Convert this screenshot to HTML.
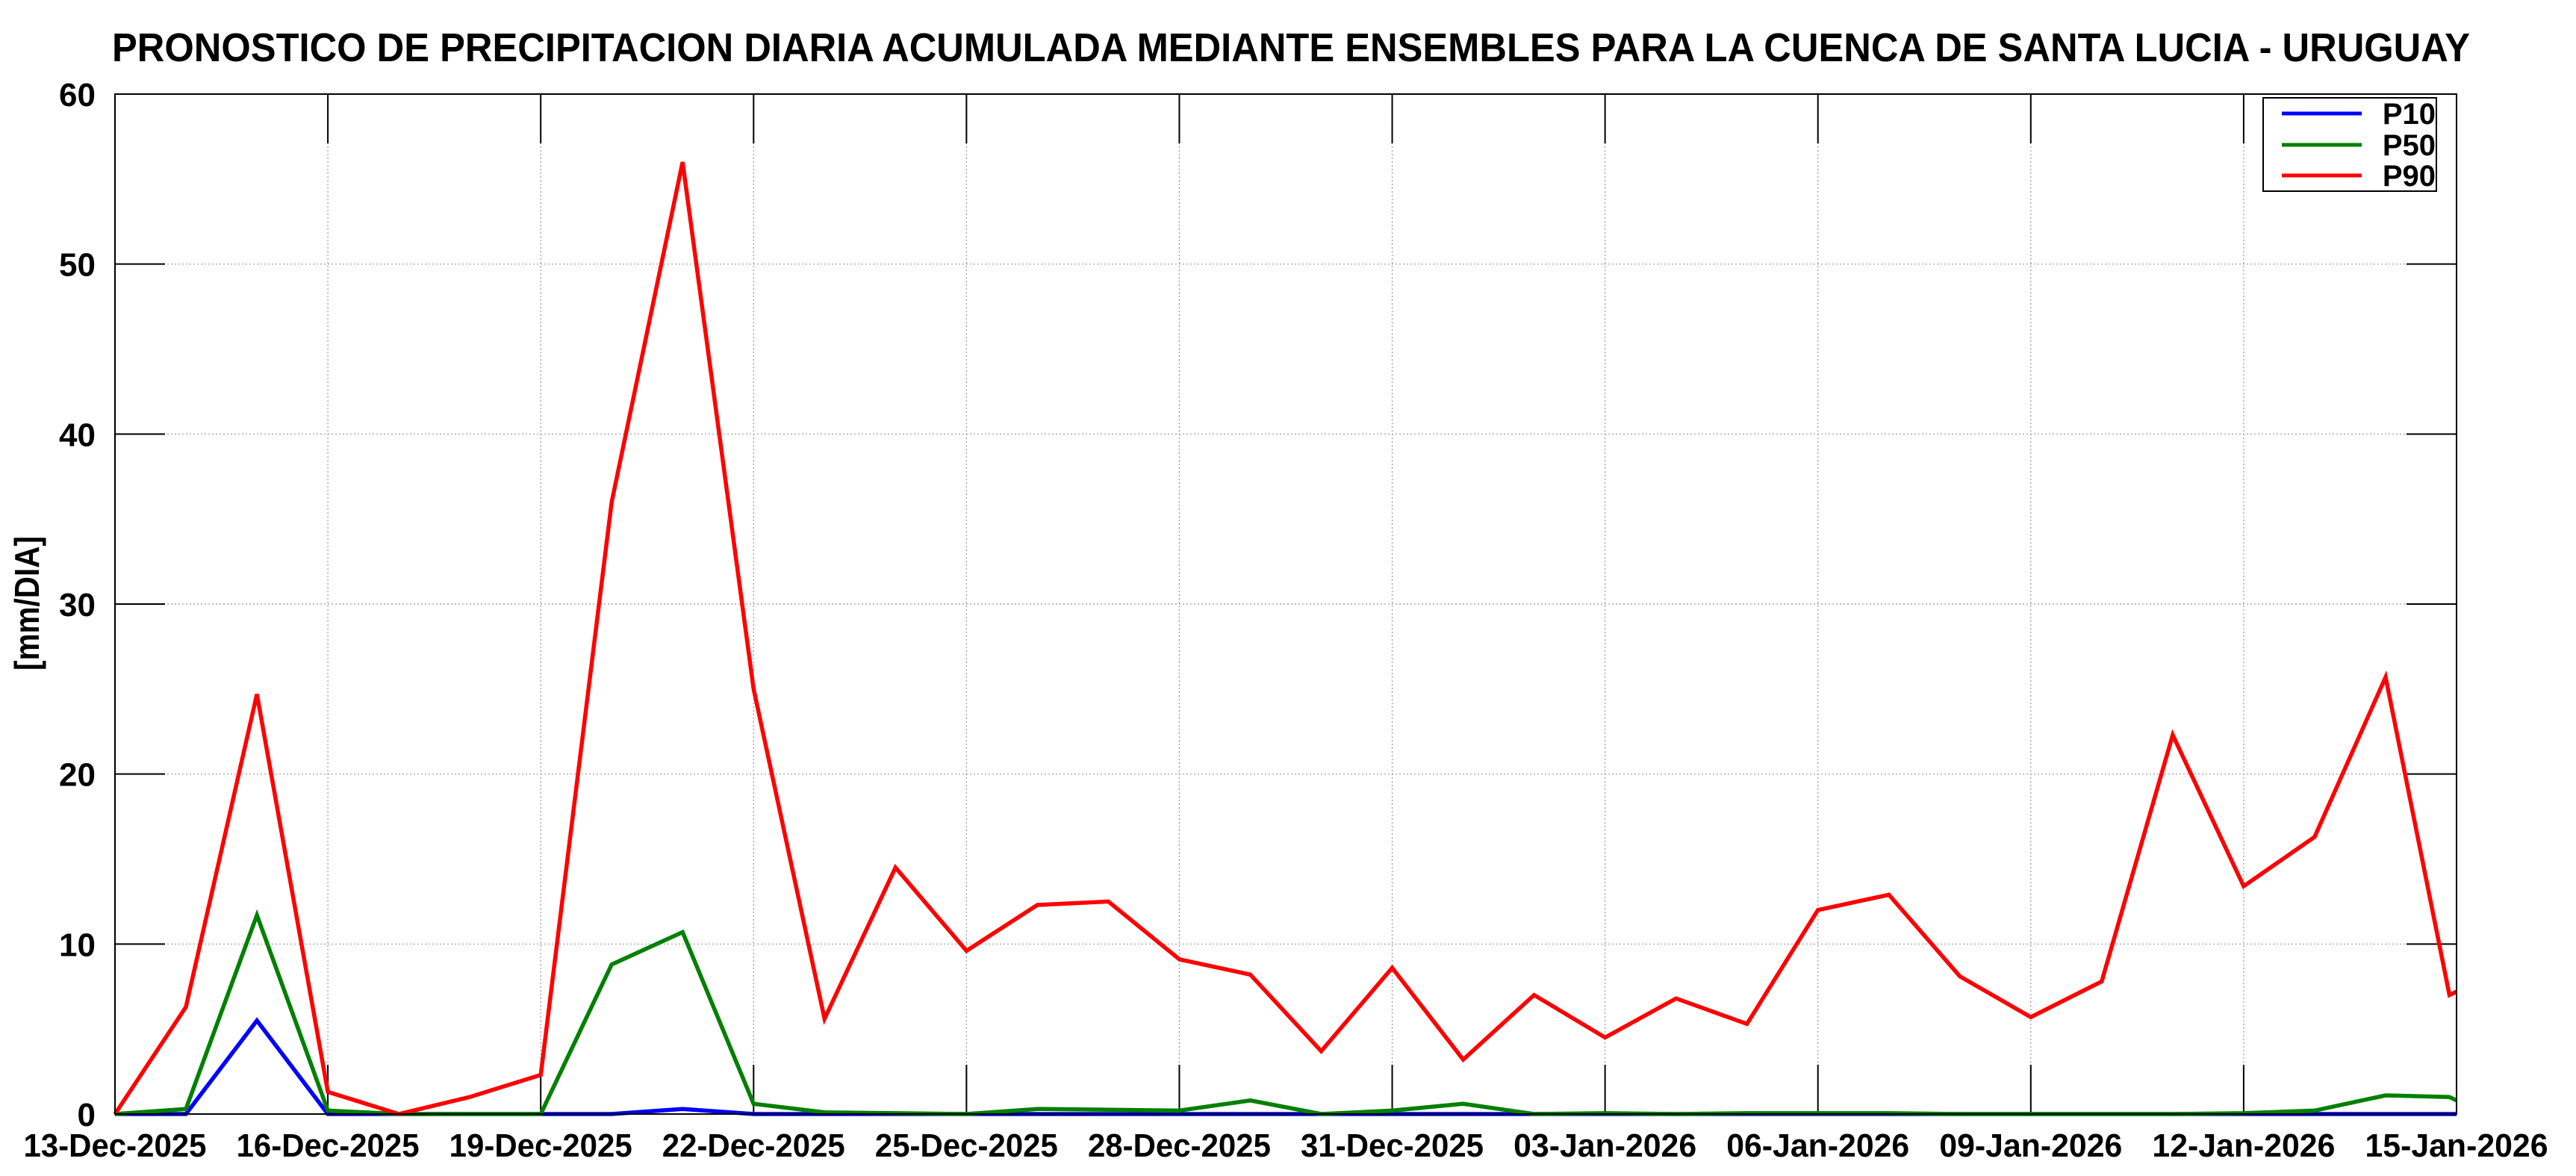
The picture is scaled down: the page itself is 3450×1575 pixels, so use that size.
<!DOCTYPE html>
<html><head><meta charset="utf-8"><style>
html,body{margin:0;padding:0;background:#fff;width:3450px;height:1575px;overflow:hidden}
svg{display:block}
text{font-family:"Liberation Sans",sans-serif;font-weight:bold;fill:#000}
</style></head><body>
<svg id="s" width="3450" height="1575" viewBox="0 0 3450 1575" xmlns="http://www.w3.org/2000/svg">
<rect width="3450" height="1575" fill="#fff"/>
<text x="1729" y="82" font-size="54" text-anchor="middle" textLength="3158" lengthAdjust="spacingAndGlyphs">PRONOSTICO DE PRECIPITACION DIARIA ACUMULADA MEDIANTE ENSEMBLES PARA LA CUENCA DE SANTA LUCIA - URUGUAY</text>
<g id="grid"></g>
<g id="lbl"></g>
<text transform="translate(52,808) rotate(-90)" font-size="46" text-anchor="middle" textLength="180" lengthAdjust="spacingAndGlyphs">[mm/DIA]</text>
<g id="series" fill="none" stroke-width="5.5" stroke-linejoin="miter"></g>
<rect x="154" y="126" width="3136" height="1366" fill="none" stroke="#000" stroke-width="2"/>
<rect x="3031" y="131" width="232" height="125" fill="#fff" stroke="#000" stroke-width="2"/>
<line x1="3056" y1="152" x2="3163" y2="152" stroke="#0000ff" stroke-width="5"/>
<line x1="3056" y1="194" x2="3163" y2="194" stroke="#008000" stroke-width="5"/>
<line x1="3056" y1="235" x2="3163" y2="235" stroke="#ff0000" stroke-width="5"/>
<text x="3262" y="166" font-size="40" text-anchor="end">P10</text>
<text x="3262" y="208" font-size="40" text-anchor="end">P50</text>
<text x="3262" y="249" font-size="40" text-anchor="end">P90</text>
</svg>
<script>
var NS="http://www.w3.org/2000/svg";
function el(p,t,a,txt){var e=document.createElementNS(NS,t);for(var k in a)e.setAttribute(k,a[k]);if(txt)e.textContent=txt;document.getElementById(p).appendChild(e);}
var L=154,R=3290,T=126,B=1492,dw=(R-L)/33,py=(B-T)/60;
function X(d){return L+d*dw}function Y(v){return B-v*py}
for(var v=0;v<=60;v+=10){var y=Y(v);
 if(v>0&&v<60)el("grid","line",{x1:L,y1:y,x2:R,y2:y,stroke:"#999","stroke-width":1.2,"stroke-dasharray":"2,3"});
 el("grid","line",{x1:L,y1:y,x2:L+67,y2:y,stroke:"#000","stroke-width":2});
 el("grid","line",{x1:R-67,y1:y,x2:R,y2:y,stroke:"#000","stroke-width":2});
 el("lbl","text",{x:128,y:y+16,"font-size":44,"text-anchor":"end"},String(v));}
var dates=["13-Dec-2025","16-Dec-2025","19-Dec-2025","22-Dec-2025","25-Dec-2025","28-Dec-2025","31-Dec-2025","03-Jan-2026","06-Jan-2026","09-Jan-2026","12-Jan-2026","15-Jan-2026"];
for(var i=0;i<12;i++){var x=X(i*3);
 if(i>0&&i<11)el("grid","line",{x1:x,y1:T,x2:x,y2:B,stroke:"#999","stroke-width":1.2,"stroke-dasharray":"2,3"});
 el("grid","line",{x1:x,y1:T,x2:x,y2:T+66,stroke:"#000","stroke-width":2});
 el("grid","line",{x1:x,y1:B-66,x2:x,y2:B,stroke:"#000","stroke-width":2});
 el("lbl","text",{x:x,y:1549,"font-size":44,"text-anchor":"middle",textLength:245,lengthAdjust:"spacingAndGlyphs"},dates[i]);}
var p90=[0,6.3,24.7,1.3,0,1.0,2.3,36,56,25,5.6,14.5,9.6,12.3,12.5,9.1,8.2,3.7,8.6,3.2,7.0,4.5,6.8,5.3,12.0,12.9,8.1,5.7,7.8,22.3,13.4,16.3,25.7];
var p50=[0,0.3,11.7,0.2,0,0,0,8.8,10.7,0.6,0.1,0.05,0,0.3,0.25,0.2,0.8,0,0.2,0.6,0,0.05,0,0.05,0.05,0.05,0,0,0,0,0.05,0.2,1.1];
var p10=[0,0,5.5,0,0,0,0,0,0.3,0,0,0,0,0,0,0,0,0,0,0,0,0,0,0,0,0,0,0,0,0,0,0,0];
function path(a,end,col){var d="";for(var i=0;i<a.length;i++)d+=(i?"L":"M")+X(i).toFixed(1)+","+Y(a[i]).toFixed(1);
 for(var j=0;j<end.length;j++)d+="L"+X(end[j][0]).toFixed(1)+","+Y(end[j][1]).toFixed(1);
 el("series","path",{d:d,stroke:col});}
path(p10,[[32.9,0],[33,0]],"#0000ff");
path(p50,[[32.9,1.0],[33,0.8]],"#008000");
path(p90,[[32.9,7.0],[33,7.2]],"#ff0000");
</script>
</body></html>
